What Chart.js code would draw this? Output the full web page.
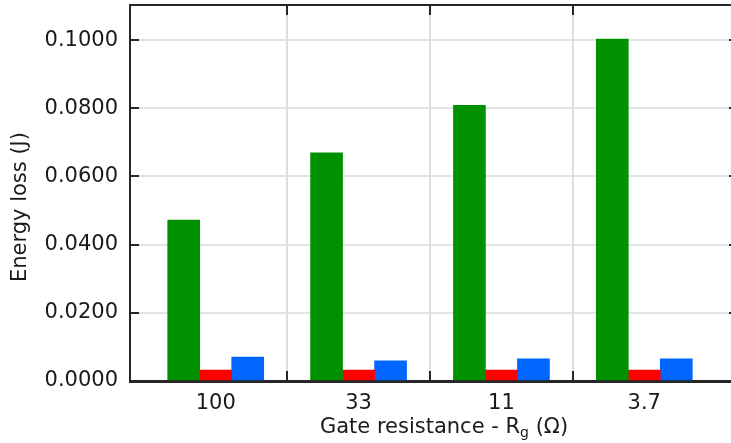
<!DOCTYPE html>
<html>
<head>
<meta charset="utf-8">
<script src="https://cdn.jsdelivr.net/npm/chart.js@4/dist/chart.umd.min.js"></script>
<style>
  html, body { margin: 0; padding: 0; background: #fff; }
  canvas { display: block; }
</style>
</head>
<body>
<canvas id="lossChart" width="731" height="443"></canvas>
<script>
// gate resistance values on the x axis
var categories = ['100', '33', '11', '3.7'];

// energy loss per gate resistance (J)
var lossGreen = [0.0472, 0.0669, 0.0809, 0.1003];
var lossRed = [0.0032, 0.0032, 0.0032, 0.0032];
var lossBlue = [0.0070, 0.0059, 0.0065, 0.0065];

var yTicks = [0, 0.02, 0.04, 0.06, 0.08, 0.1];

var FONT = 'DejaVu Sans, Verdana, sans-serif';
var AXIS = '#262626';

function points(values) {
  return values.map(function (v, i) { return { x: i + 1, y: v }; });
}

// frame: top border, inward tick marks, boundary grid lines and axis titles
var framePlugin = {
  id: 'frame',
  beforeDatasetsDraw: function (chart) {
    var ctx = chart.ctx, a = chart.chartArea, xs = chart.scales.x;
    ctx.save();
    ctx.strokeStyle = '#dedede';
    ctx.lineWidth = 2;
    for (var i = 1; i < categories.length; i++) {
      var px = Math.round(xs.getPixelForValue(i + 0.5));
      ctx.beginPath();
      ctx.moveTo(px, a.top);
      ctx.lineTo(px, a.bottom);
      ctx.stroke();
    }
    ctx.restore();
  },
  afterDatasetsDraw: function (chart) {
    var ctx = chart.ctx, a = chart.chartArea, xs = chart.scales.x, ys = chart.scales.y;
    ctx.save();
    ctx.strokeStyle = AXIS;
    ctx.lineWidth = 2;
    ctx.beginPath();
    ctx.moveTo(a.left - 1, a.top);
    ctx.lineTo(a.right + 2, a.top);
    ctx.moveTo(a.left - 1, a.bottom + 1);
    ctx.lineTo(a.right + 2, a.bottom + 1);
    for (var i = 1; i < categories.length; i++) {
      var px = Math.round(xs.getPixelForValue(i + 0.5));
      ctx.moveTo(px, a.top);
      ctx.lineTo(px, a.top + 10);
      ctx.moveTo(px, a.bottom);
      ctx.lineTo(px, a.bottom - 10);
    }
    yTicks.forEach(function (t) {
      var py = Math.round(ys.getPixelForValue(t));
      ctx.moveTo(a.left, py);
      ctx.lineTo(a.left + 9, py);
      ctx.moveTo(a.right + 1, py);
      ctx.lineTo(a.right - 1, py);
    });
    ctx.stroke();

    // axis titles
    ctx.fillStyle = '#1a1a1a';
    ctx.textBaseline = 'alphabetic';
    var cx = (a.left + a.right) / 2 + 14;
    var base = 433;
    var part1 = 'Gate resistance - R';
    var part2 = 'g';
    var part3 = ' (\u03A9)';
    ctx.font = '21px ' + FONT;
    var w1 = ctx.measureText(part1).width;
    var w3 = ctx.measureText(part3).width;
    ctx.font = '14px ' + FONT;
    var w2 = ctx.measureText(part2).width;
    var x0 = cx - (w1 + w2 + w3) / 2;
    ctx.font = '21px ' + FONT;
    ctx.textAlign = 'left';
    ctx.fillText(part1, x0, base);
    ctx.font = '14px ' + FONT;
    ctx.fillText(part2, x0 + w1, base + 4);
    ctx.font = '21px ' + FONT;
    ctx.fillText(part3, x0 + w1 + w2, base);

    ctx.translate(26, (a.top + a.bottom) / 2 + 14);
    ctx.rotate(-Math.PI / 2);
    ctx.textAlign = 'center';
    ctx.fillText('Energy loss (J)', 0, 0);
    ctx.restore();
  }
};

var ctx = document.getElementById('lossChart').getContext('2d');
var lossChart = new Chart(ctx, {
  type: 'bar',
  data: {
    datasets: [
      { label: 'Green', data: points(lossGreen), backgroundColor: '#009100' },
      { label: 'Red', data: points(lossRed), backgroundColor: '#ff0000' },
      { label: 'Blue', data: points(lossBlue), backgroundColor: '#0066ff' }
    ]
  },
  plugins: [framePlugin],
  options: {
    responsive: false,
    devicePixelRatio: 1,
    animation: false,
    layout: { padding: { top: 5, right: 1, left: 0, bottom: 0 } },
    barThickness: 32,
    plugins: {
      legend: { display: false },
      tooltip: { enabled: false }
    },
    scales: {
      x: {
        type: 'linear',
        min: 0.4,
        max: 4.6,
        offset: false,
        afterBuildTicks: function (scale) {
          scale.ticks = categories.map(function (c, i) { return { value: i + 1 }; });
        },
        afterFit: function (scale) {
          scale.height = 62;
          scale.paddingLeft = 0;
          scale.paddingRight = 0;
        },
        grid: { display: false, drawTicks: false, offset: false },
        border: { display: true, color: AXIS, width: 2 },
        ticks: {
          padding: 10,
          maxRotation: 0,
          autoSkip: false,
          color: '#1a1a1a',
          font: { family: FONT, size: 21 },
          callback: function (v) { return categories[Math.round(v) - 1]; }
        }
      },
      y: {
        min: 0,
        max: 0.1103,
        afterBuildTicks: function (scale) {
          scale.ticks = yTicks.map(function (t) { return { value: t }; });
        },
        afterFit: function (scale) {
          scale.width = 130;
          scale.paddingTop = 0;
          scale.paddingBottom = 0;
        },
        grid: { color: '#e3e3e3', lineWidth: 2, drawTicks: false },
        border: { display: true, color: AXIS, width: 2 },
        ticks: {
          padding: 12,
          color: '#1a1a1a',
          font: { family: FONT, size: 21 },
          callback: function (v) { return v.toFixed(4); }
        }
      }
    }
  }
});
</script>
</body>
</html>
